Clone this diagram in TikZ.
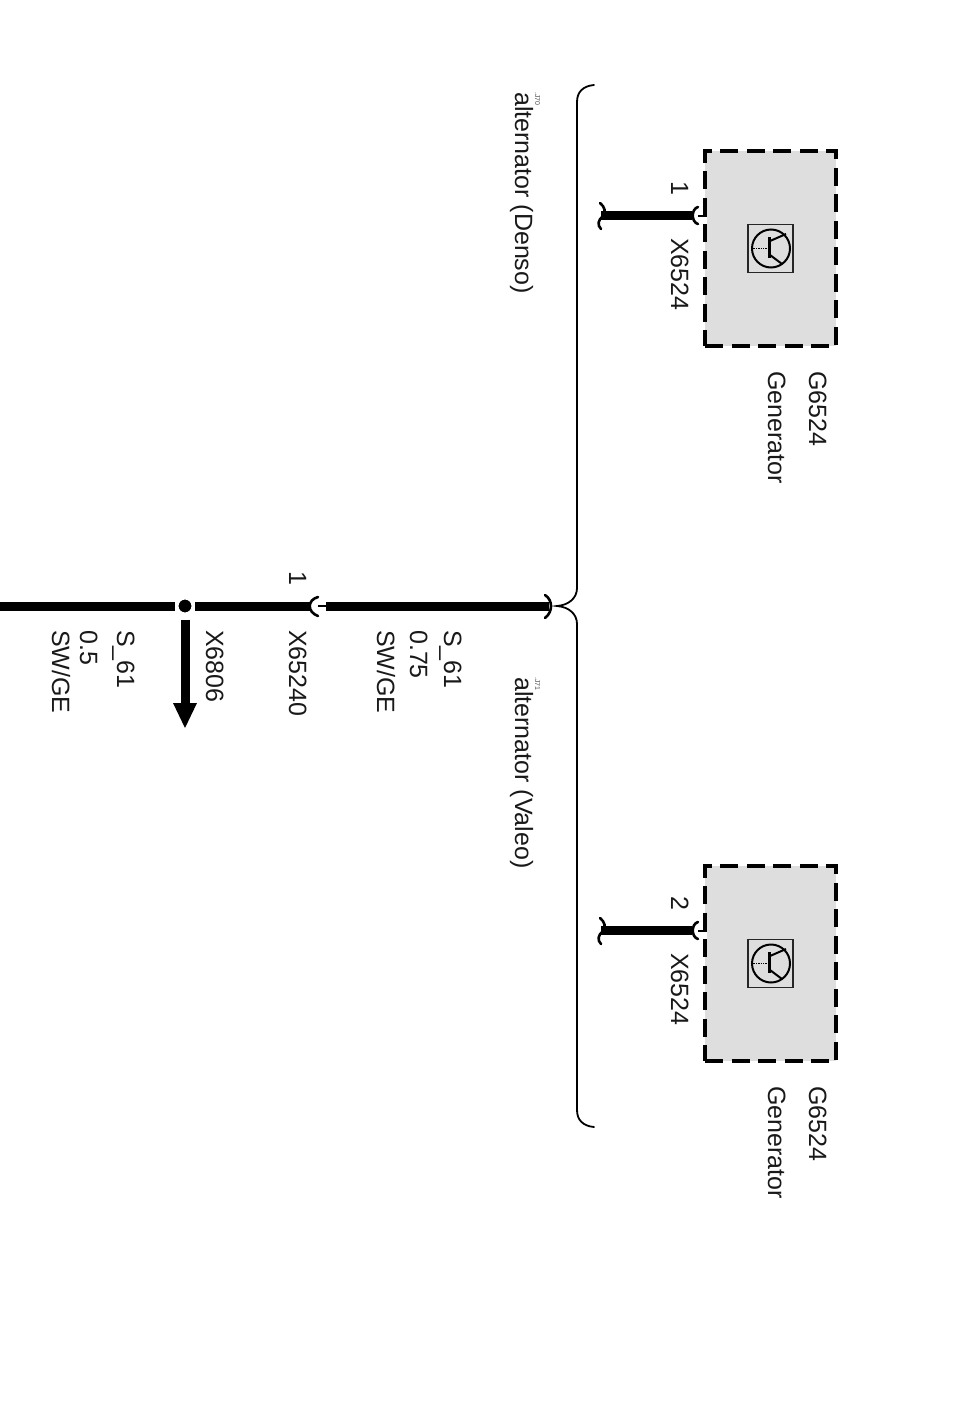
\documentclass[tikz,border=0pt]{standalone}
\usepackage{fontspec}
\setmainfont{Liberation Sans}
\tikzset{
  lab/.style={rotate=-90,anchor=base west,inner sep=0pt,font=\fontsize{25}{25}\selectfont,text=black!90},
  tinylab/.style={rotate=-90,anchor=base west,inner sep=0pt,font=\fontsize{7}{7}\selectfont,text=black!70},
  genbox/.style={draw=black,fill=black!13,line width=4pt,dash pattern=on 18pt off 8.5pt,minimum width=131pt,minimum height=195pt,inner sep=0pt},
  wire/.style={line width=9pt},
  tip/.style={line width=2.6pt,line cap=round}
}
\begin{document}
\begin{tikzpicture}[x=1pt,y=-1pt]
  \useasboundingbox (0,0) rectangle (959,1421);

  % the two generators
  \foreach \dy/\pin/\nm in {0/1/A,715/2/B}{
    \begin{scope}[yshift=-\dy pt]
      \node [genbox] (box\nm) at (770.5,248.5) {};
      \node [draw=black!85,fill=black!13,line width=1.6pt,minimum width=45pt,minimum height=48pt,inner sep=0pt] (sym\nm) at (770.5,248.5) {};
      \node [circle,draw=black,line width=2pt,minimum size=38pt,inner sep=0pt] (trans\nm) at (771,248.5) {};
      \draw [line width=3pt] (769,237) -- (769,258);
      \draw [line width=1.4pt,densely dotted] (trans\nm.west) -- (769,248.5);
      \draw [line width=2pt] (770,241) -- (786,234) (770,255) -- (782,264);
      \coordinate (plug\nm) at (698,215.5);
      \coordinate (end\nm) at (601,215.5);
      \draw [wire] (end\nm) -- ++(91,0);
      \draw [tip] (698,207) .. controls (691,209) and (691,222) .. (698,224);
      \draw [white,line width=4pt] (705,216.5) -- (705,224);
      \draw [line width=2pt] (plug\nm) -- (707,215.5);
      \draw [tip] (600,203) .. controls (605,207) and (606,212) .. (603,216) .. controls (598,220) and (597,225) .. (601,229);
      \node [lab] at (671,181) {\pin};
      \node [lab] at (671,238) {X6524};
      \node [lab] at (809,371) {G6524};
      \node [lab] at (768,371) {Generator};
    \end{scope}
  }

  % brace
  \coordinate (bracetip) at (557,606);
  \draw [line width=1.8pt,line cap=round] (594,85) .. controls (583,86) and (577,92) .. (577,102)
    -- (577,588) .. controls (577,598) and (569,605) .. (bracetip)
    .. controls (569,607) and (577,614) .. (577,624)
    -- (577,1110) .. controls (577,1120) and (583,1126) .. (594,1127);
  \node [lab] at (515,92) {alternator (Denso)};
  \node [lab] at (515,677) {alternator (Valeo)};
  \node [tinylab] at (535,92) {.J70};
  \node [tinylab] at (535,677) {.J71};

  % main wire
  \node [circle,fill=black,draw=white,line width=3pt,minimum size=16pt,inner sep=0pt] (joint) at (185,606) {};
  \coordinate (left) at (0,606);
  \coordinate (plugC) at (318,606);
  \coordinate (endC) at (549,606);
  \draw [wire] (left) -- (175,606);
  \draw [wire] (195,606) -- (311,606);
  \draw [wire] (326,606) -- (endC);
  \draw [line width=2pt] (plugC) -- (326,606);
  \draw [tip] (318,597) .. controls (307,600) and (307,612) .. (318,616);
  \draw [tip] (545,595) .. controls (553,600) and (553,612) .. (545,618);
  \draw [line width=9pt] (joint.south) ++(0,4) -- (185,704);
  \fill (173,703) -- (197,703) -- (185,728) -- cycle;

  \node [lab] at (444,630) {S\_61};
  \node [lab] at (410,630) {0.75};
  \node [lab] at (377,630) {SW/GE};
  \node [lab] at (289,571) {1};
  \node [lab] at (289,630) {X65240};
  \node [lab] at (206,630) {X6806};
  \node [lab] at (117,630) {S\_61};
  \node [lab] at (80,630) {0.5};
  \node [lab] at (52,630) {SW/GE};
\end{tikzpicture}
\end{document}
